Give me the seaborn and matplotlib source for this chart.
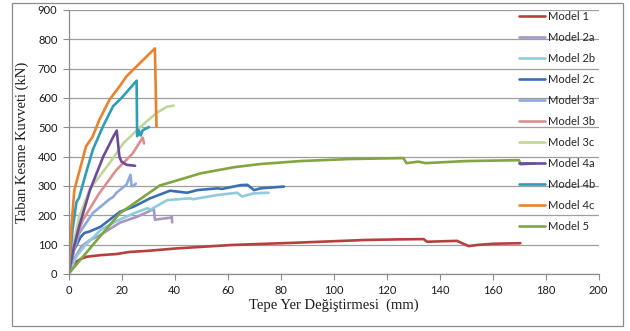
import matplotlib
matplotlib.use("Agg")
import matplotlib.pyplot as plt
import seaborn as sns
import pandas as pd
from matplotlib.patches import Rectangle

# ---- data ----
labels = ["Model 1", "Model 2a", "Model 2b", "Model 2c", "Model 3a", "Model 3b",
          "Model 3c", "Model 4a", "Model 4b", "Model 4c", "Model 5"]
colors = ["#B5413E", "#A797C8", "#8FCBDD", "#3D6EB4", "#8CA9D9", "#D9908E",
          "#C2D69A", "#6B4C9A", "#2F9DB6", "#E9822F", "#80A541"]

m1_x = [0, 1.5, 3, 5, 7, 11.8, 18, 22.9, 30, 40.4, 61.7, 86.8, 111.9, 124.4, 134, 135.3, 146.6, 151, 154.2, 160, 170.5]
m1_y = [0, 31, 42, 53, 59, 64, 68, 75, 79, 87, 99, 107, 116, 118, 119, 110, 113, 95, 99, 103, 105]

m2a_x = [0, 2, 5, 8, 12, 19.4, 25.8, 30, 32.2, 32.6, 35, 38.5, 39, 39.1]
m2a_y = [0, 50, 95, 115, 133, 175, 195, 212, 222, 185, 188, 192, 195, 176]

m2b_x = [0, 3, 6, 12.1, 18, 24.7, 29.7, 31, 37.3, 46, 47, 56.1, 63.6, 65.5, 69.9, 75.5]
m2b_y = [0, 60, 95, 150, 180, 207, 224, 220, 252, 258, 255, 269, 277, 264, 275, 277]

m2c_x = [0, 2, 4.5, 6, 8, 12.1, 19.4, 24.7, 30.8, 38.3, 42, 44.8, 48.6, 56.1, 58, 65, 67.5, 70, 72.5, 81.3]
m2c_y = [0, 80, 125, 140, 145, 161, 212, 230, 258, 284, 280, 277, 286, 292, 290, 303, 304, 286, 292, 298]

m3a_x = [0, 2, 4.1, 9.2, 15.5, 16.9, 18.1, 21.9, 23.4, 23.8, 24.5, 25.4]
m3a_y = [0, 80, 140, 208, 255, 263, 277, 305, 338, 300, 300, 308]

m3b_x = [0, 2, 5.4, 11.6, 18, 24.2, 28, 28.5]
m3b_y = [0, 100, 184, 275, 354, 411, 465, 445]

m3c_x = [0, 2, 4.1, 8.1, 15.5, 20.7, 27, 29.5, 33.4, 37.1, 39.7]
m3c_y = [0, 110, 197, 290, 378, 446, 500, 520, 550, 570, 574]

m4a_x = [0, 2, 4, 8.1, 13.1, 16.9, 18.2, 19.2, 20, 22, 25.1]
m4a_y = [0, 90, 162, 286, 400, 468, 489, 400, 383, 372, 369]

m4b_x = [0, 1.5, 3, 4, 6.6, 9.2, 13, 16.8, 20, 25.7, 25.9, 26.5, 27.2, 28, 30.4]
m4b_y = [0, 150, 245, 260, 344, 424, 503, 572, 600, 659, 470, 490, 472, 490, 501]

m4c_x = [0, 1, 2.2, 3.5, 5, 6.6, 9.1, 11.6, 15.4, 19.2, 21.9, 28.3, 32.6, 33.2]
m4c_y = [0, 150, 286, 330, 380, 435, 468, 525, 593, 639, 674, 731, 769, 502]

m5_x = [0, 10, 19.4, 27, 34.5, 42.1, 49.8, 62.4, 72.5, 87.5, 106.4, 125.3, 126.4, 127.5, 132, 134.7, 150, 170, 170.5, 176]
m5_y = [0, 108, 207, 255, 302, 322, 343, 364, 375, 385, 392, 395, 395, 378, 383, 378, 385, 388, 374, 377]

xs = [m1_x, m2a_x, m2b_x, m2c_x, m3a_x, m3b_x, m3c_x, m4a_x, m4b_x, m4c_x, m5_x]
ys = [m1_y, m2a_y, m2b_y, m2c_y, m3a_y, m3b_y, m3c_y, m4a_y, m4b_y, m4c_y, m5_y]

x_ticks = [0, 20, 40, 60, 80, 100, 120, 140, 160, 180, 200]
y_ticks = [0, 100, 200, 300, 400, 500, 600, 700, 800, 900]

rows = []
for lab, x, y in zip(labels, xs, ys):
    for i, (a, b) in enumerate(zip(x, y)):
        rows.append({"model": lab, "order": i, "x": a, "y": b})
df = pd.DataFrame(rows)

sns.set_theme(style="white")
plt.rcParams["font.family"] = ["Lato", "DejaVu Sans"]

fig = plt.figure(figsize=(6.30, 3.31), dpi=100)
ax = fig.add_axes([68.5 / 630, 1 - 274 / 331, 530 / 630, 264 / 331])

sns.lineplot(data=df, x="x", y="y", hue="model", hue_order=labels,
             palette=dict(zip(labels, colors)), sort=False, estimator=None,
             units="model", linewidth=1.9, ax=ax)

ax.set_xlim(0, 200)
ax.set_ylim(0, 900)
ax.set_xticks(x_ticks)
ax.set_yticks(y_ticks)
ax.tick_params(axis="both", labelsize=8, colors="#8C8C8C", labelcolor="#1A1A1A",
               length=4, width=0.8, direction="out", pad=4)
ax.tick_params(axis="x", bottom=True)
ax.tick_params(axis="y", left=True)
ax.yaxis.grid(True, color="#9E9E9E", linewidth=0.9)
ax.xaxis.grid(False)
ax.set_axisbelow(True)
for s in ["top", "right"]:
    ax.spines[s].set_visible(False)
for s in ["left", "bottom"]:
    ax.spines[s].set_color("#8C8C8C")
    ax.spines[s].set_linewidth(0.9)

ax.set_xlabel("Tepe Yer Değiştirmesi  (mm)", family="Liberation Serif", fontsize=10.5,
              color="#1A1A1A", labelpad=2)
ax.set_ylabel("Taban Kesme Kuvveti (kN)", family="Liberation Serif", fontsize=10.5,
              color="#1A1A1A", labelpad=6)

leg = ax.legend(loc="upper left", bbox_to_anchor=(519 / 630, 1 - 11 / 331),
                bbox_transform=fig.transFigure, frameon=False, fontsize=8,
                labelspacing=0.9, handlelength=2.3, handletextpad=0.3,
                borderaxespad=0, borderpad=0)
for line in leg.get_lines():
    line.set_linewidth(1.9)

fig.patches.append(Rectangle((12 / 630, 1 - 326 / 331), 611 / 630, 323 / 331,
                             transform=fig.transFigure, fill=False,
                             edgecolor="#8C8C8C", linewidth=0.9))

fig.savefig("out.png", dpi=100, facecolor="white")
